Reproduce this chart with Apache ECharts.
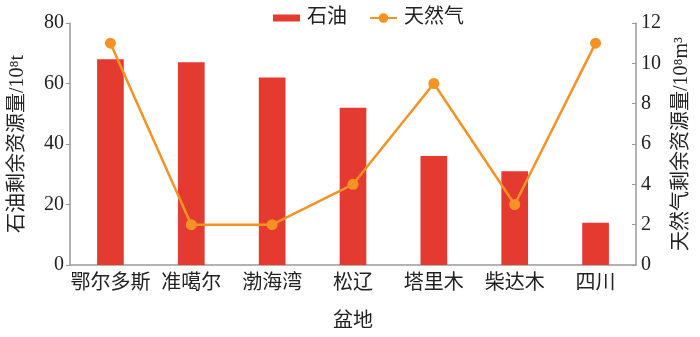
<!DOCTYPE html>
<html><head><meta charset="utf-8">
<script src="https://cdn.jsdelivr.net/npm/echarts@6/dist/echarts.min.js"></script>
<style>html,body{margin:0;padding:0;background:#fff}#c{width:700px;height:337px}</style>
</head><body><div id="c"></div>
<script>
const categories = ['鄂尔多斯','准噶尔','渤海湾','松辽','塔里木','柴达木','四川'];
const oil = [68, 67, 62, 52, 36, 31, 14];
const gas = [11, 2, 2, 4, 9, 3, 11];
const oilTicks = [0, 20, 40, 60, 80];
const gasTicks = [0, 2, 4, 6, 8, 10, 12];

const FONT = '"Liberation Serif", "Noto Sans CJK SC", serif';
const txt = {color:'#222', fontFamily: FONT, fontSize: 20};
const axisLine = {show:true, lineStyle:{color:'#999', width:1.5}};
const chart = echarts.init(document.getElementById('c'), null, {renderer:'canvas'});
chart.setOption({
  animation:false,
  backgroundColor:'#fff',
  textStyle:{fontFamily:FONT},
  legend:{
    top:3, left:268, itemGap:22, itemWidth:27, itemHeight:12,
    textStyle:{color:'#222', fontFamily:FONT, fontSize:20, padding:[0,0,0,2]},
    data:[{name:'石油', icon:'path://M0,0 L27,0 L27,7 L0,7 Z'}, {name:'天然气'}]
  },
  grid:{left:70, right:58, top:23, bottom:65},
  xAxis:{
    type:'category', data:categories,
    axisLine:axisLine, axisTick:{show:false},
    axisLabel:Object.assign({margin:9, interval:0}, txt),
    name:'盆地', nameLocation:'middle', nameGap:47,
    nameTextStyle:txt
  },
  yAxis:[{
    type:'value', min:oilTicks[0], max:oilTicks[oilTicks.length-1], interval:20,
    axisLine:axisLine, axisTick:{show:true, length:4, lineStyle:{color:'#999'}},
    splitLine:{show:false},
    axisLabel:Object.assign({margin:6}, txt),
    name:'石油剩余资源量/10⁸t', nameLocation:'middle', nameGap:42,
    nameTextStyle:txt
  },{
    type:'value', min:gasTicks[0], max:gasTicks[gasTicks.length-1], interval:2,
    axisLine:axisLine, axisTick:{show:true, length:4, inside:true, lineStyle:{color:'#999'}},
    splitLine:{show:false},
    axisLabel:Object.assign({margin:5}, txt),
    name:'天然气剩余资源量/10⁸m³', nameLocation:'middle', nameGap:36,
    nameTextStyle:txt
  }],
  series:[{
    name:'石油', type:'bar', data:oil, barWidth:'33%',
    itemStyle:{color:'#e53a30'}
  },{
    name:'天然气', type:'line', yAxisIndex:1, data:gas,
    symbol:'circle', symbolSize:11,
    lineStyle:{color:'#f39323', width:2.5},
    itemStyle:{color:'#f39323'}
  }]
});
</script></body></html>
